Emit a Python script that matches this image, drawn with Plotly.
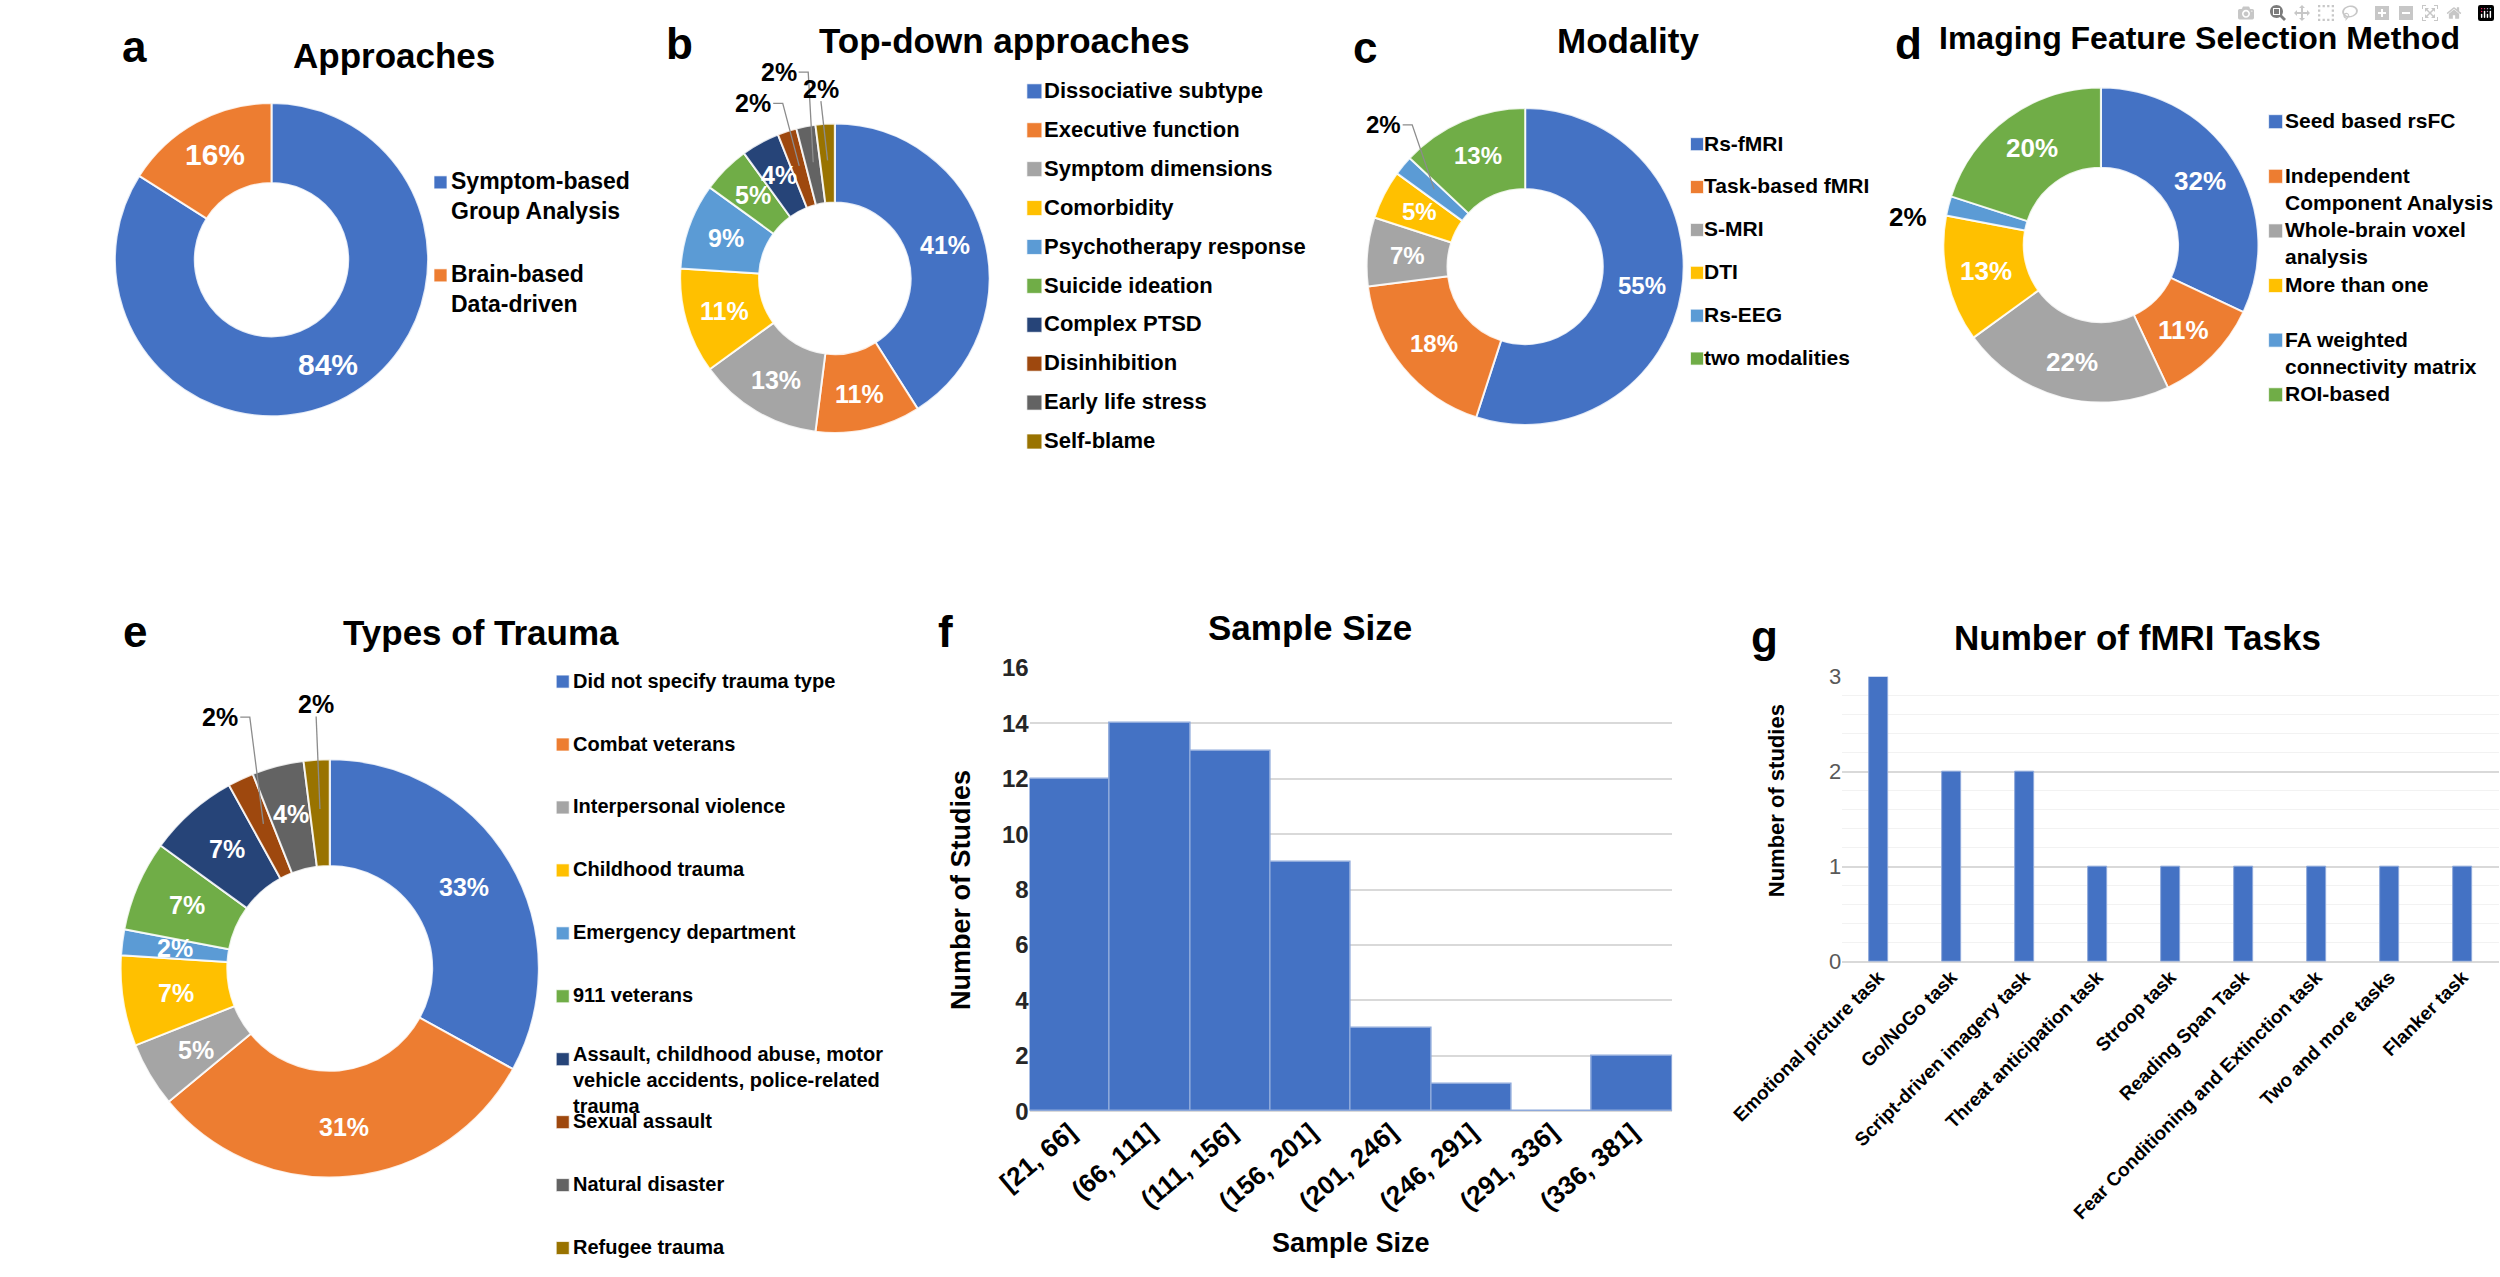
import math
import plotly.graph_objects as go

W, H = 2500, 1277
FONT = "Liberation Sans, Arial, Helvetica, sans-serif"

# ---------------- data ----------------
approach_labels = ["Symptom-based\nGroup Analysis", "Brain-based\nData-driven"]
approach_values = [84, 16]

topdown_labels = ["Dissociative subtype", "Executive function", "Symptom dimensions",
                  "Comorbidity", "Psychotherapy response", "Suicide ideation",
                  "Complex PTSD", "Disinhibition", "Early life stress", "Self-blame"]
topdown_values = [41, 11, 13, 11, 9, 5, 4, 2, 2, 2]

modality_labels = ["Rs-fMRI", "Task-based fMRI", "S-MRI", "DTI", "Rs-EEG", "two modalities"]
modality_values = [55, 18, 7, 5, 2, 13]

feature_labels = ["Seed based rsFC", "Independent\nComponent Analysis",
                  "Whole-brain voxel\nanalysis", "More than one",
                  "FA weighted\nconnectivity matrix", "ROI-based"]
feature_values = [32, 11, 22, 13, 2, 20]

trauma_labels = ["Did not specify trauma type", "Combat veterans", "Interpersonal violence",
                 "Childhood trauma", "Emergency department", "911 veterans",
                 "Assault, childhood abuse, motor\nvehicle accidents, police-related\ntrauma",
                 "Sexual assault", "Natural disaster", "Refugee trauma"]
trauma_values = [33, 31, 5, 7, 2, 7, 7, 2, 4, 2]

size_bins = ["[21, 66]", "(66, 111]", "(111, 156]", "(156, 201]",
             "(201, 246]", "(246, 291]", "(291, 336]", "(336, 381]"]
size_counts = [12, 14, 13, 9, 3, 1, 0, 2]

task_labels = ["Emotional picture task", "Go/NoGo task", "Script-driven imagery task",
               "Threat anticipation task", "Stroop task", "Reading Span Task",
               "Fear Conditioning and Extinction task", "Two and more tasks", "Flanker task"]
task_counts = [3, 2, 2, 1, 1, 1, 1, 1, 1]

# ---------------- style ----------------
PALETTE = ["#4472C4", "#ED7D31", "#A5A5A5", "#FFC000", "#5B9BD5",
           "#70AD47", "#264478", "#9E480E", "#636363", "#997300"]
HOLE = 0.49
LEADER = "#8c8c8c"


def px(x):
    return x / W


def py(y):
    return 1 - y / H


fig = go.Figure()
annotations = []
shapes = []
layout_axes = {}

# pie panels: geometry (pixels), label size, callouts (index -> label offset in px)
PIES = [
    dict(labels=approach_labels, values=approach_values, cx=166, cy=251, r=164, fs=30,
         arrows={}, plain={}, lift={},
         leg=dict(sq=343, dx=9, y0=172, sp=95, fs=23, size=13)),
    dict(labels=topdown_labels, values=topdown_values, cx=756, cy=270, r=162, fs=25,
         arrows={7: (-48, -64), 8: (-36, -92), 9: (-7, -73)}, plain={}, lift={},
         leg=dict(sq=965, dx=8, y0=79, sp=39.75, fs=22, size=15)),
    dict(labels=modality_labels, values=modality_values, cx=1479, cy=258, r=166, fs=24,
         arrows={4: (-53, -66)}, plain={}, lift={},
         leg=dict(sq=1659, dx=5, y0=133, sp=43.8, fs=21, size=13)),
    dict(labels=feature_labels, values=feature_values, cx=2082, cy=236, r=165, fs=26,
         arrows={}, plain={4: 186}, lift={},
         leg=dict(sq=2265, dx=7, y0=110, sp=55.8, fs=21, size=14)),
    dict(labels=trauma_labels, values=trauma_values, cx=227, cy=975, r=219, fs=25,
         arrows={7: (-45, -109), 9: (-4, -107)}, plain={}, lift={6: 4},
         leg=dict(sq=471, dx=8, y0=682, sp=64.3, fs=20, size=13)),
]

axis_idx = 3
for p in PIES:
    labels = [l.replace("\n", " ") for l in p["labels"]]
    n = len(labels)
    vals = p["values"]
    cx, cy, r = p["cx"], p["cy"], p["r"]
    fig.add_trace(go.Pie(
        labels=labels, values=vals, hole=HOLE, sort=False, direction="clockwise", rotation=0,
        marker=dict(colors=PALETTE[:n], line=dict(color="rgba(255,255,255,0.85)", width=2)),
        textinfo="none",
        domain=dict(x=[px(cx - r), px(cx + r)], y=[py(cy + r), py(cy - r)]),
        showlegend=False, hoverinfo="label+value"))

    # slice labels placed along each slice's mid-angle
    total = float(sum(vals))
    cum = 0.0
    rm = r * (1 + HOLE) / 2
    for i, v in enumerate(vals):
        theta = 2 * math.pi * (cum + v / 2.0) / total
        cum += v
        txt = f"<b>{v}%</b>"
        if i in p["arrows"]:
            tx, ty = cx + rm * math.sin(theta), cy - rm * math.cos(theta)
            ax, ay = p["arrows"][i]
            lx, ly = tx + ax, ty + ay
            annotations.append(dict(
                x=px(lx), y=py(ly), xref="paper", yref="paper", text=txt,
                showarrow=False, xanchor="center", yanchor="middle",
                font=dict(family=FONT, size=p["fs"], color="black")))
            hw = 0.75 * p["fs"]
            if abs(ax) > 20:
                pts = [(lx + hw + 2, ly), (lx + hw + 12, ly), (tx, ty)]
            else:
                pts = [(lx, ly + 0.5 * p["fs"]), (tx, ty)]
            path = "M " + " L ".join(f"{px(a):.5f},{py(b):.5f}" for a, b in pts)
            shapes.append(dict(type="path", path=path, xref="paper", yref="paper",
                               line=dict(color=LEADER, width=1.3)))
        elif i in p["plain"]:
            rd = p["plain"][i]
            tx, ty = cx + rd * math.sin(theta), cy - rd * math.cos(theta)
            annotations.append(dict(
                x=px(tx), y=py(ty), xref="paper", yref="paper", text=txt,
                showarrow=False, font=dict(family=FONT, size=p["fs"], color="black")))
        else:
            tx, ty = cx + rm * math.sin(theta), cy - rm * math.cos(theta)
            annotations.append(dict(
                x=px(tx), y=py(ty), xref="paper", yref="paper", text=txt,
                showarrow=False, xanchor="center", yanchor="middle",
                font=dict(family=FONT, size=p["fs"], color="white")))

    # legend built on a hidden category axis
    lg = p["leg"]
    top = lg["y0"] - lg["sp"] / 2
    bot = min(lg["y0"] + (n - 0.5) * lg["sp"], H - 2)
    xa, ya = f"x{axis_idx}", f"y{axis_idx}"
    layout_axes[f"xaxis{axis_idx}"] = dict(domain=[px(lg["sq"]), px(lg["sq"] + 10)], range=[0, 1],
                                           visible=False, fixedrange=True, anchor=ya)
    layout_axes[f"yaxis{axis_idx}"] = dict(domain=[py(bot), py(top)], type="category",
                                           range=[(bot - lg["y0"]) / lg["sp"], (top - lg["y0"]) / lg["sp"]],
                                           visible=False, fixedrange=True, anchor=xa)
    fig.add_trace(go.Scatter(
        x=[0] * n, y=labels, mode="markers", xaxis=xa, yaxis=ya, cliponaxis=False,
        marker=dict(symbol="square", size=lg["size"], color=PALETTE[:n],
                    line=dict(color="rgba(255,255,255,0.7)", width=1)),
        showlegend=False, hoverinfo="skip"))
    for i, (cat, lab) in enumerate(zip(labels, p["labels"])):
        annotations.append(dict(
            x=0, y=cat, xref=xa, yref=ya, text="<b>" + lab.replace("\n", "<br>") + "</b>",
            xanchor="left", yanchor="top", xshift=lg["dx"],
            yshift=0.65 * lg["fs"] + 1 + p["lift"].get(i, 0),
            align="left", showarrow=False, font=dict(family=FONT, size=lg["fs"], color="black")))
    axis_idx += 1

# ---------------- f: histogram ----------------
fig.add_trace(go.Bar(x=size_bins, y=size_counts, width=1, xaxis="x", yaxis="y",
                     marker=dict(color="#4472C4", line=dict(color="#8EA9DB", width=1.5)),
                     showlegend=False))
layout_axes["xaxis"] = dict(domain=[px(960), px(1633)], type="category", anchor="y",
                            tickangle=-40, showgrid=False, ticks="", showline=False,
                            tickfont=dict(family=FONT, size=26, color="black", weight="bold"))
layout_axes["yaxis"] = dict(domain=[py(1121), py(668)], range=[0, 16], dtick=2, anchor="x",
                            gridcolor="#D9D9D9", gridwidth=1.5, zeroline=True,
                            zerolinecolor="#D9D9D9", zerolinewidth=1.5, ticks="",
                            tickfont=dict(family=FONT, size=24, color="#262626", weight="bold"))

# ---------------- g: tasks ----------------
fig.add_trace(go.Bar(x=task_labels, y=task_counts, width=0.25, xaxis="x2", yaxis="y2",
                     marker=dict(color="#4472C4", line=dict(color="#8EA9DB", width=1)),
                     showlegend=False))
layout_axes["xaxis2"] = dict(domain=[px(1811), px(2499)], type="category", anchor="y2",
                             tickangle=-45, showgrid=False, ticks="", showline=False,
                             tickfont=dict(family=FONT, size=19, color="black", weight="bold"))
layout_axes["yaxis2"] = dict(domain=[py(968), py(677)], range=[0, 3], dtick=1, anchor="x2",
                             gridcolor="#D9D9D9", gridwidth=1.5, zeroline=True,
                             zerolinecolor="#D9D9D9", zerolinewidth=1.5, ticks="",
                             minor=dict(dtick=0.2, showgrid=True, gridcolor="#F2F2F2", gridwidth=1),
                             tickfont=dict(family=FONT, size=22, color="#595959"))

# ---------------- titles / letters ----------------
TITLES = [("Approaches", 294, 42, 35), ("Top-down approaches", 934, 27, 35),
          ("Modality", 1587, 27, 35), ("Imaging Feature Selection Method", 2185, 25, 32),
          ("Types of Trauma", 385, 632, 35), ("Sample Size", 1254, 627, 35),
          ("Number of fMRI Tasks", 2120, 637, 35)]
for t, x, y, s in TITLES:
    annotations.append(dict(x=px(x), y=py(y), xref="paper", yref="paper", text=f"<b>{t}</b>",
                            showarrow=False, xanchor="center", yanchor="middle",
                            font=dict(family=FONT, size=s, color="black")))

LETTERS = [("a", 22, 33), ("b", 593, 30), ("c", 1311, 34), ("d", 1880, 30),
           ("e", 23, 631), ("f", 872, 631), ("g", 1730, 636)]
for t, x, y in LETTERS:
    annotations.append(dict(x=px(x), y=py(y), xref="paper", yref="paper", text=f"<b>{t}</b>",
                            showarrow=False, xanchor="center", yanchor="middle",
                            font=dict(family=FONT, size=44, color="black")))

AXIS_TITLES = [("Sample Size", 1297, 1256, 0, 27), ("Number of Studies", 888, 895, -90, 27),
               ("Number of studies", 1742, 804, -90, 22)]
for t, x, y, ang, s in AXIS_TITLES:
    annotations.append(dict(x=px(x), y=py(y), xref="paper", yref="paper", text=f"<b>{t}</b>",
                            showarrow=False, xanchor="center", yanchor="middle", textangle=ang,
                            font=dict(family=FONT, size=s, color="black")))

fig.update_layout(
    width=W, height=H, margin=dict(l=0, r=0, t=0, b=0),
    paper_bgcolor="white", plot_bgcolor="white",
    font=dict(family=FONT, color="black"),
    annotations=annotations, shapes=shapes, bargap=0,
    **layout_axes)

fig.write_html("out.html", post_script="document.body.style.margin='0';")
